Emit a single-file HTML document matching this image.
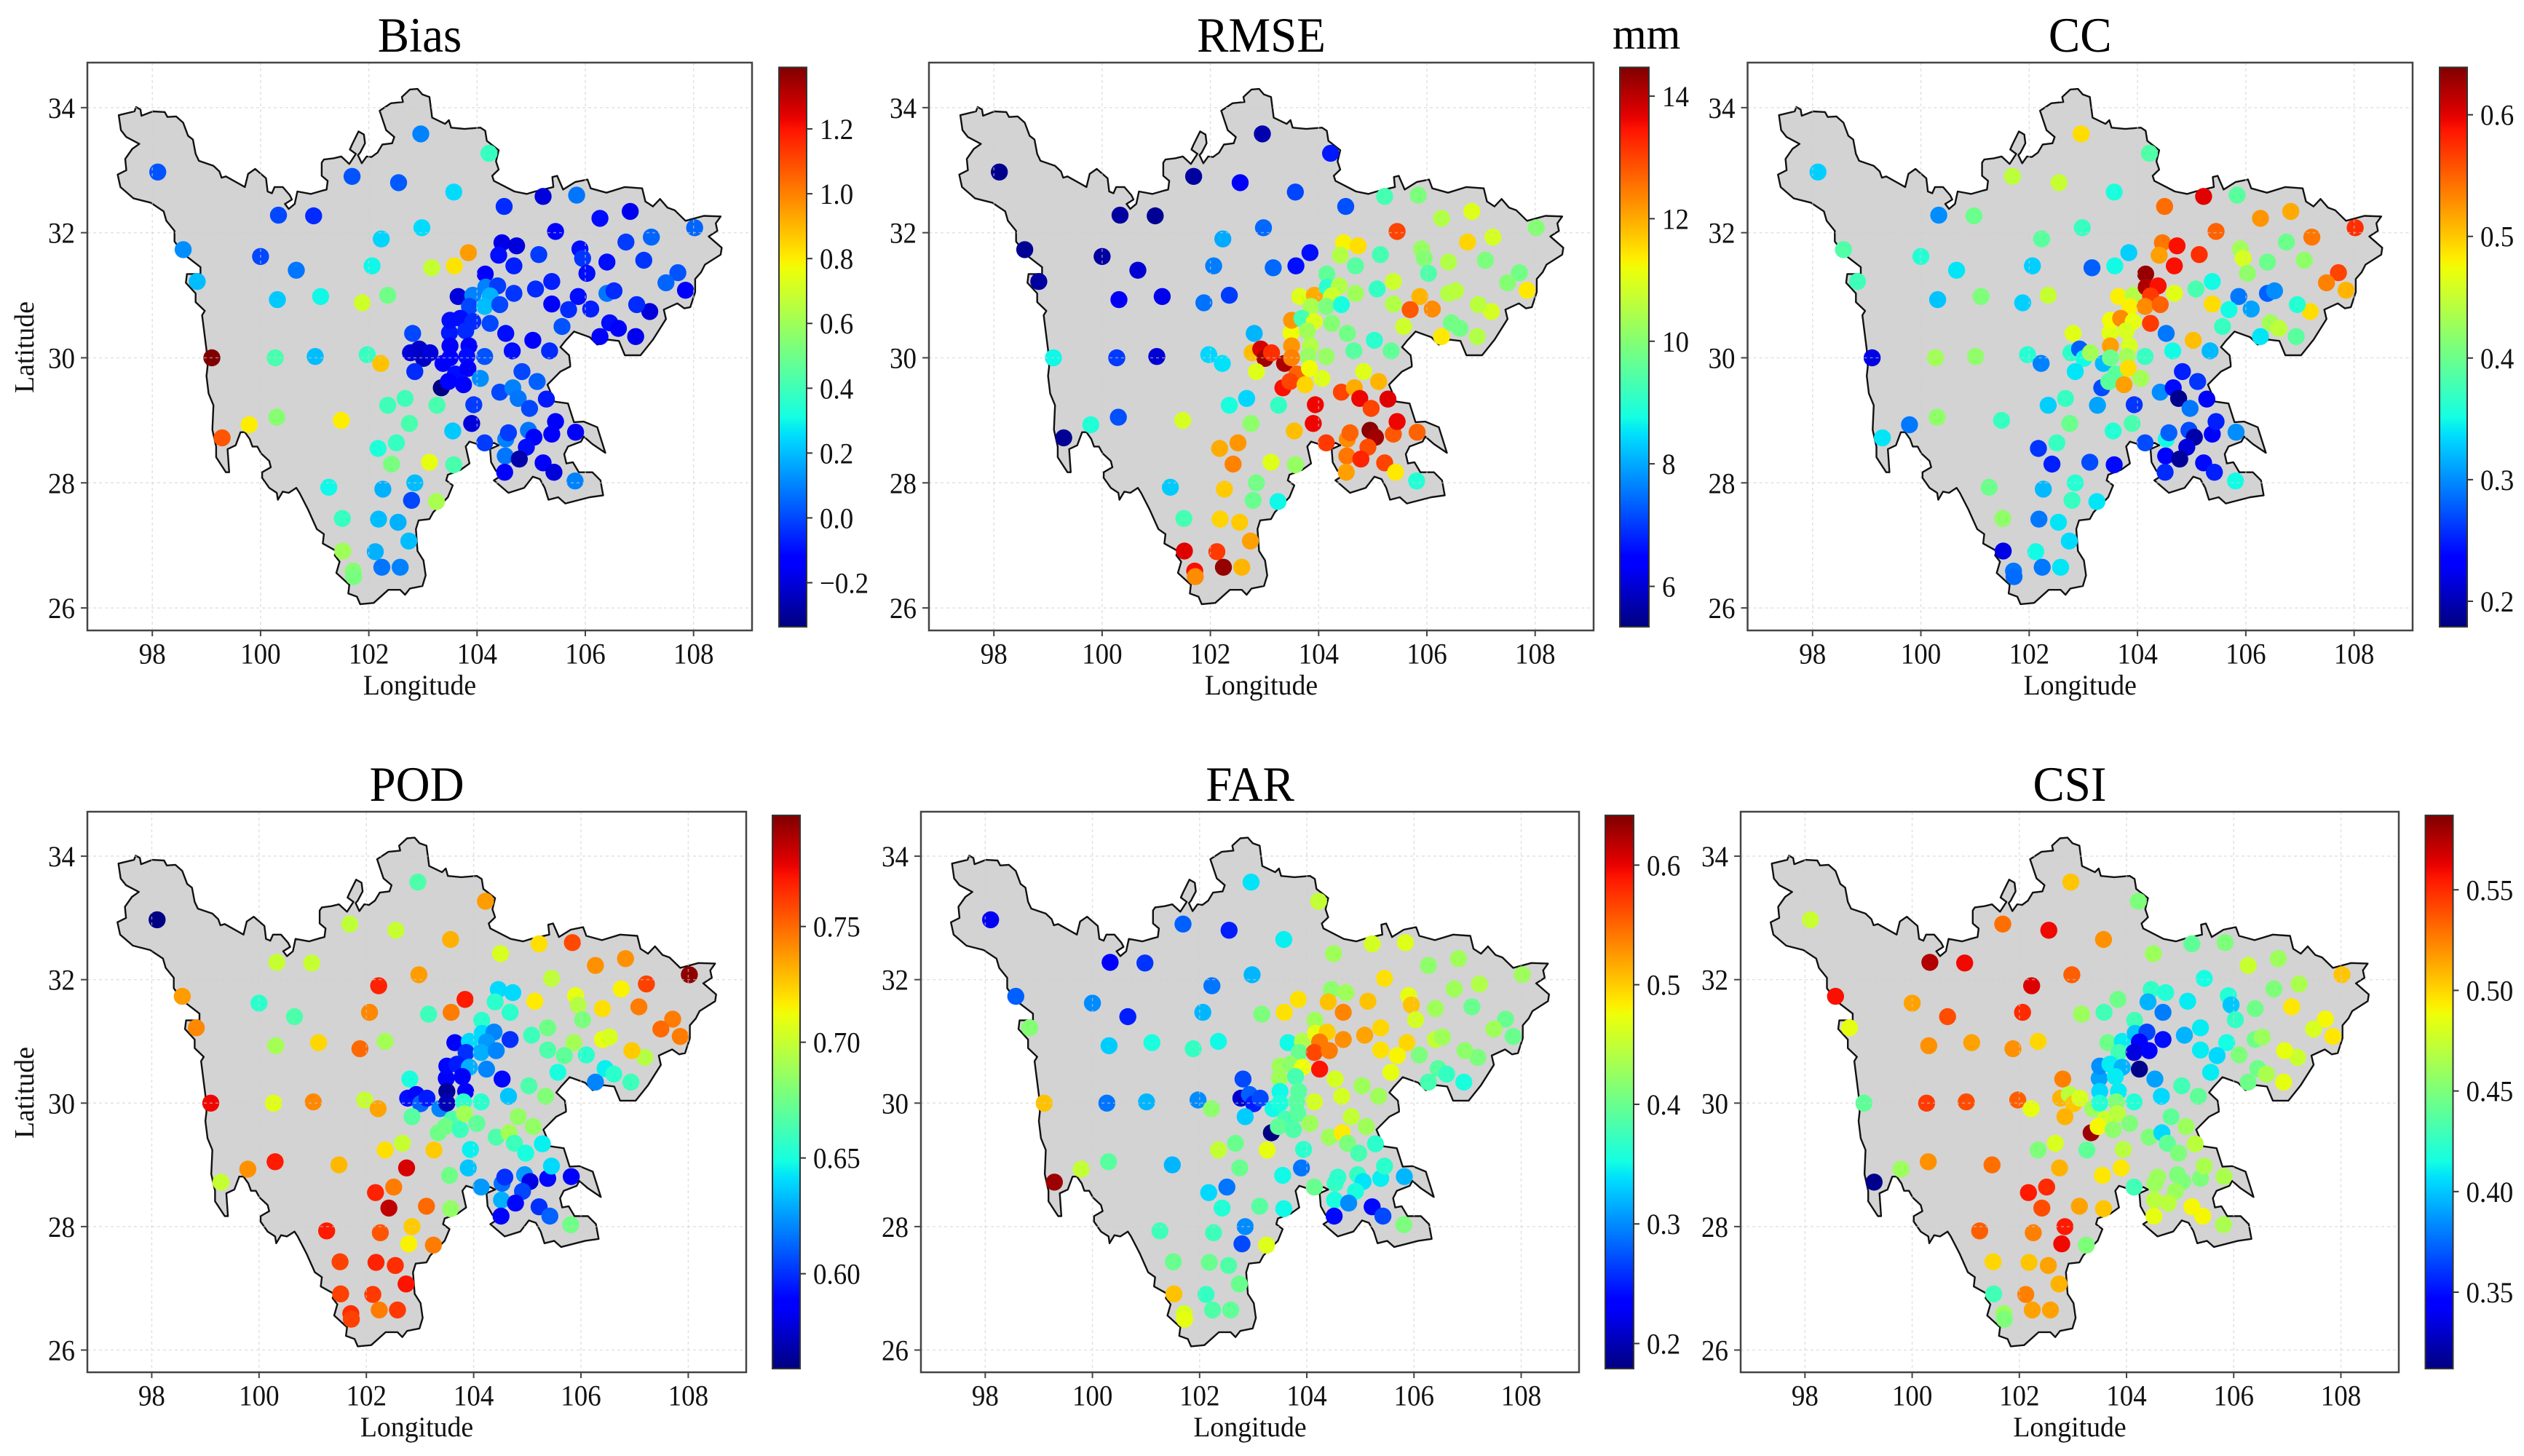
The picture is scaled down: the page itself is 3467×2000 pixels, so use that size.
<!DOCTYPE html>
<html lang="en">
<head>
<meta charset="utf-8">
<title>Precipitation verification metrics over Sichuan</title>
<style>
html,body{margin:0;padding:0;background:#fff;}
svg{display:block;font-family:"Liberation Serif",serif;}
</style>
</head>
<body>
<svg id="figure" xmlns="http://www.w3.org/2000/svg" width="3467" height="2000" viewBox="0 0 3467 2000">
<rect x="0" y="0" width="3467" height="2000" fill="#ffffff"/>
</svg>
<script>
const stationLon = [
98.1,98.57,98.83,99.1,99.29,99.79,100.0,100.33,100.98,100.66,
100.31,101.11,100.27,101.01,100.3,101.49,101.69,102.55,102.96,104.22,
103.57,104.5,105.22,105.84,102.98,102.23,102.06,101.88,102.35,103.16,
103.58,103.84,101.97,102.22,102.81,102.77,102.93,103.01,103.13,102.85,
103.34,103.37,103.49,103.5,103.5,103.5,103.6,103.47,103.75,103.65,
103.92,103.86,103.69,103.92,103.79,103.85,103.81,103.83,104.15,104.16,
104.38,104.24,104.14,104.42,104.68,104.24,104.53,104.65,104.14,104.06,
104.42,104.66,104.76,104.83,105.11,105.03,105.34,104.97,105.28,103.94,
103.9,103.55,102.75,102.35,102.67,103.26,102.17,102.51,102.42,103.12,
103.57,104.14,104.53,104.58,104.95,105.05,104.91,105.38,105.45,105.82,
104.52,104.78,105.22,105.42,104.51,105.81,101.26,102.26,102.85,102.79,
103.25,101.51,102.18,102.54,102.74,101.52,102.12,102.24,102.58,101.71,
101.72,105.45,104.46,104.73,104.4,104.68,105.14,105.9,105.95,106.03,
106.4,105.38,105.08,105.87,106.1,105.38,105.69,105.57,106.27,106.45,
106.61,106.93,107.19,106.95,106.4,106.53,106.27,106.83,106.75,107.22,
107.08,108.02,107.71,107.49,107.85];
const stationLat = [
32.97,31.73,31.22,30.0,28.72,28.93,31.62,32.28,32.27,31.4,
30.93,30.98,30.0,30.02,29.05,29.0,32.9,32.8,33.58,33.27,
32.65,32.42,32.58,32.6,32.08,31.9,31.47,30.88,31.0,31.44,
31.47,31.68,30.05,29.91,30.39,30.08,30.14,29.99,30.08,29.78,
29.52,29.91,30.4,30.6,30.19,30.0,29.74,29.62,29.57,30.98,
31.0,30.82,30.63,30.58,30.43,30.19,30.02,29.83,31.34,31.13,
31.15,30.99,30.82,30.85,31.03,30.55,30.39,30.11,30.02,29.67,
29.45,29.52,29.35,29.78,29.62,30.28,30.11,29.19,29.34,29.25,
28.95,28.83,28.95,29.24,29.35,29.24,28.55,28.64,28.3,28.33,
28.29,28.64,28.7,28.8,28.84,28.73,28.57,28.78,28.98,28.81,
28.43,28.38,28.32,28.17,28.17,28.03,27.93,27.9,28.0,27.72,
27.7,27.43,27.42,27.37,27.07,26.91,26.9,26.65,26.65,26.59,
26.5,32.02,31.84,31.79,31.64,31.47,31.65,31.74,31.59,31.35,
31.53,31.22,31.1,30.98,30.78,30.86,30.77,30.5,30.34,30.56,
30.47,30.34,30.74,30.85,31.03,31.07,32.23,32.34,31.85,31.93,
31.56,32.08,31.36,31.2,31.08];

const biasValues = [
0.02,0.12,0.2,1.39,1.08,0.8,0,0,-0.05,0.08,
0.22,0.3,0.42,0.2,0.55,0.8,0.02,0.03,0.1,0.38,
0.25,-0.05,-0.2,0.08,0.25,0.24,0.3,0.7,0.5,0.68,
0.82,0.95,0.38,0.88,0,-0.2,-0.22,-0.24,-0.2,-0.05,
-0.33,-0.15,-0.08,-0.1,-0.15,-0.12,-0.1,-0.12,-0.13,-0.2,
0.1,0,-0.1,-0.05,-0.05,-0.12,-0.1,-0.15,-0.15,0.1,
-0.02,0.18,0.2,0,-0.03,0,-0.1,-0.1,0.02,0.12,
0,0.1,0.08,0,0.04,-0.12,-0.05,0,-0.08,-0.02,
-0.2,0.22,0.42,0.4,0.4,0.42,0.33,0.38,0.52,0.75,
0.42,-0.02,0.1,-0.02,0.08,-0.14,-0.1,-0.15,-0.14,-0.15,
0.08,-0.27,-0.15,-0.2,-0.15,0.1,0.3,0.18,0.2,0,
0.62,0.38,0.2,0.18,0.2,0.6,0.18,0.08,0.1,0.55,
0.52,-0.15,-0.18,-0.2,-0.1,-0.07,-0.02,-0.1,-0.03,-0.1,
-0.1,-0.07,-0.05,-0.1,-0.07,-0.15,-0.05,0.02,-0.15,-0.1,
-0.12,-0.17,-0.2,-0.05,0.08,-0.05,-0.1,-0.17,-0.02,0.05,
-0.03,0.05,0.02,0.05,-0.12];
const rmseValues = [
5.45,5.5,5.6,8.7,5.5,8.9,5.6,5.6,5.5,6.0,
6.3,6.2,7.0,6.0,7.2,10.9,5.6,6.3,5.7,6.7,
7.1,7.2,9.3,9.9,7.4,8.0,7.6,7.5,7.0,7.4,
6.6,6.6,8.4,8.5,8.1,11.8,13.8,14.2,13.2,11.0,
13.5,14.1,11.2,12.2,12.2,12.4,12.7,13.0,11.6,11.0,
12.0,10.4,9.3,11.0,10.3,10.5,10.2,11.2,9.6,9.0,
10.5,10.8,9.9,8.8,10.3,10.0,9.8,9.5,10.2,11.0,
13.0,12.0,13.6,11.0,11.9,9.0,9.6,13.0,13.7,13.6,
13.6,11.8,10.1,8.8,8.4,9.1,12.0,12.2,12.4,11.0,
10.2,13.1,12.3,12.7,14.4,14.2,12.9,12.8,13.6,12.7,
12.5,13.3,13.0,11.4,12.1,8.9,8.3,11.7,9.8,9.7,
8.7,9.3,11.6,11.7,12.1,13.7,13.1,14.3,11.9,13.5,
12.3,13.0,11.3,11.5,10.5,9.5,9.3,10.2,10.0,9.4,
10.5,10.8,9.1,11.9,12.3,10.5,12.8,10.8,11.4,9.8,
9.8,10.5,10.9,10.6,10.5,10.6,10.5,11.0,11.6,10.9,
9.9,10.0,9.8,10.0,11.4];
const ccValues = [
0.33,0.385,0.375,0.22,0.34,0.29,0.36,0.30,0.40,0.34,
0.325,0.41,0.43,0.42,0.42,0.37,0.445,0.45,0.49,0.385,
0.355,0.545,0.60,0.39,0.37,0.39,0.33,0.33,0.45,0.28,
0.35,0.33,0.36,0.295,0.465,0.365,0.28,0.35,0.43,0.34,
0.27,0.32,0.465,0.475,0.52,0.40,0.39,0.39,0.52,0.48,
0.44,0.48,0.53,0.47,0.46,0.46,0.43,0.49,0.63,0.62,
0.59,0.57,0.53,0.55,0.465,0.57,0.29,0.35,0.37,0.43,
0.30,0.24,0.185,0.25,0.26,0.505,0.32,0.29,0.23,0.26,
0.38,0.36,0.40,0.33,0.37,0.31,0.26,0.37,0.25,0.27,
0.24,0.27,0.35,0.28,0.27,0.195,0.215,0.23,0.25,0.30,
0.23,0.19,0.24,0.25,0.255,0.35,0.40,0.32,0.36,0.37,
0.34,0.42,0.29,0.34,0.335,0.22,0.35,0.29,0.34,0.29,
0.285,0.55,0.54,0.59,0.52,0.59,0.575,0.43,0.46,0.42,
0.40,0.35,0.38,0.29,0.31,0.49,0.35,0.37,0.34,0.43,
0.445,0.39,0.49,0.36,0.28,0.30,0.525,0.515,0.40,0.54,
0.42,0.575,0.565,0.535,0.51];
const podValues = [
0.56,0.737,0.742,0.775,0.70,0.74,0.655,0.70,0.70,0.665,
0.69,0.722,0.708,0.742,0.77,0.73,0.698,0.70,0.665,0.737,
0.732,0.705,0.72,0.758,0.737,0.768,0.742,0.75,0.69,0.66,
0.745,0.77,0.70,0.735,0.65,0.592,0.59,0.612,0.595,0.668,
0.675,0.62,0.585,0.59,0.565,0.57,0.665,0.675,0.66,0.585,
0.64,0.60,0.595,0.63,0.585,0.585,0.655,0.69,0.655,0.64,
0.62,0.625,0.63,0.62,0.60,0.62,0.59,0.635,0.655,0.67,
0.665,0.69,0.66,0.685,0.685,0.665,0.68,0.65,0.645,0.645,
0.635,0.675,0.78,0.72,0.70,0.725,0.768,0.745,0.785,0.75,
0.685,0.625,0.615,0.60,0.625,0.58,0.605,0.59,0.64,0.585,
0.63,0.59,0.60,0.612,0.585,0.675,0.77,0.755,0.725,0.715,
0.745,0.76,0.768,0.765,0.772,0.76,0.762,0.745,0.762,0.765,
0.76,0.698,0.64,0.64,0.655,0.655,0.717,0.71,0.695,0.678,
0.72,0.675,0.66,0.69,0.655,0.665,0.67,0.65,0.62,0.645,
0.655,0.66,0.695,0.725,0.71,0.705,0.74,0.74,0.715,0.76,
0.745,0.795,0.745,0.75,0.745];
const farValues = [
0.225,0.28,0.415,0.505,0.63,0.45,0.30,0.23,0.26,0.25,
0.33,0.355,0.29,0.32,0.39,0.32,0.28,0.25,0.34,0.45,
0.345,0.43,0.46,0.465,0.32,0.29,0.32,0.37,0.35,0.41,
0.49,0.49,0.30,0.42,0.27,0.21,0.28,0.25,0.27,0.33,
0.18,0.35,0.43,0.43,0.35,0.355,0.38,0.395,0.385,0.35,
0.44,0.40,0.42,0.475,0.38,0.39,0.39,0.39,0.43,0.47,
0.50,0.54,0.565,0.54,0.53,0.59,0.46,0.46,0.46,0.43,
0.43,0.485,0.41,0.45,0.43,0.43,0.43,0.38,0.365,0.365,
0.29,0.35,0.40,0.45,0.40,0.47,0.335,0.29,0.36,0.39,
0.35,0.40,0.37,0.365,0.37,0.34,0.355,0.345,0.365,0.32,
0.355,0.30,0.24,0.27,0.24,0.41,0.375,0.375,0.30,0.27,
0.465,0.40,0.40,0.385,0.40,0.505,0.37,0.385,0.395,0.46,
0.47,0.49,0.42,0.43,0.505,0.535,0.505,0.47,0.505,0.46,
0.43,0.495,0.52,0.495,0.41,0.49,0.48,0.47,0.38,0.39,
0.37,0.355,0.41,0.42,0.45,0.43,0.42,0.43,0.43,0.44,
0.40,0.43,0.40,0.43,0.40];
const csiValues = [
0.475,0.558,0.485,0.44,0.315,0.46,0.515,0.575,0.56,0.54,
0.52,0.515,0.545,0.54,0.52,0.53,0.53,0.56,0.505,0.45,
0.52,0.46,0.44,0.45,0.535,0.565,0.55,0.52,0.50,0.46,
0.43,0.445,0.535,0.485,0.525,0.51,0.47,0.505,0.48,0.51,
0.58,0.46,0.39,0.385,0.405,0.42,0.475,0.49,0.455,0.445,
0.41,0.43,0.41,0.395,0.41,0.41,0.45,0.47,0.43,0.40,
0.365,0.345,0.335,0.345,0.35,0.315,0.39,0.405,0.42,0.45,
0.45,0.405,0.44,0.44,0.46,0.43,0.44,0.45,0.47,0.47,
0.495,0.495,0.51,0.45,0.48,0.44,0.555,0.55,0.54,0.515,
0.505,0.43,0.46,0.46,0.45,0.45,0.46,0.45,0.465,0.465,
0.47,0.47,0.49,0.49,0.485,0.465,0.535,0.525,0.555,0.56,
0.45,0.50,0.505,0.515,0.51,0.43,0.525,0.515,0.515,0.46,
0.45,0.415,0.425,0.42,0.395,0.38,0.41,0.42,0.40,0.425,
0.445,0.41,0.395,0.415,0.45,0.41,0.405,0.41,0.445,0.445,
0.465,0.485,0.475,0.485,0.445,0.46,0.475,0.46,0.45,0.465,
0.495,0.505,0.49,0.48,0.495];

const biasRange = [-0.336,1.39];
const rmseRange = [5.34,14.47];
const ccRange = [0.179,0.639];
const podRange = [0.559,0.798];
const farRange = [0.179,0.6416];
const csiRange = [0.312,0.587];

const biasTicks = [-0.2,0,0.2,0.4,0.6,0.8,1.0,1.2];
const rmseTicks = [6,8,10,12,14];
const ccTicks = [0.2,0.3,0.4,0.5,0.6];
const podTicks = [0.60,0.65,0.70,0.75];
const farTicks = [0.2,0.3,0.4,0.5,0.6];
const csiTicks = [0.35,0.40,0.45,0.50,0.55];

const lonTicks = [98,100,102,104,106,108];
const latTicks = [26,28,30,32,34];
const lonDomain = [96.8,109.08];
const latDomain = [25.64,34.72];

const boundaryLon = [
97.38,97.67,97.70,97.78,97.80,98.01,98.23,98.28,98.44,98.57,98.66,98.75,98.80,98.86,99.13,99.24,99.28,99.36,99.71,99.77,
99.90,100.10,100.13,100.21,100.26,100.41,100.54,100.58,100.45,100.52,100.63,100.68,100.93,101.13,101.22,101.24,101.13,101.13,101.17,101.35,
101.49,101.64,101.76,101.65,101.69,101.81,101.91,101.93,101.84,101.80,101.87,101.96,102.05,102.16,102.25,102.43,102.47,102.32,102.20,102.41,
102.63,102.61,102.76,102.90,102.99,103.12,103.17,
103.41,103.48,103.52,103.77,104.06,104.15,104.18,104.40,104.35,104.40,104.28,104.31,104.69,104.92,105.07,105.41,105.39,105.48,105.59,105.81,
106.04,106.10,106.39,106.73,107.05,107.11,107.25,107.38,107.52,107.65,107.85,108.19,108.50,108.41,108.44,108.28,108.52,108.50,108.21,108.14,
108.03,108.03,107.94,107.83,107.70,107.45,107.49,107.25,107.02,106.73,106.62,106.42,106.22,106.08,105.79,105.63,105.54,105.70,105.72,
105.72,105.54,105.30,105.43,105.68,105.79,105.97,106.22,106.37,106.13,105.97,105.92,105.68,105.61,105.65,105.77,105.88,106.13,106.28,106.33,
106.08,105.63,105.50,105.32,105.25,105.16,105.03,104.87,104.58,104.31,104.51,104.35,104.26,104.24,104.40,104.31,104.15,103.86,103.79,103.86,
103.70,103.46,103.43,103.55,103.46,103.19,103.12,102.92,102.87,102.90,103.01,103.05,102.99,102.76,102.67,102.58,
102.36,102.09,101.84,101.78,101.62,101.64,101.40,101.46,101.37,101.40,101.15,101.17,101.04,100.88,100.72,100.66,100.52,100.41,100.32,100.30,
100.16,100.03,100.03,100.19,100.16,100.01,99.94,99.85,99.80,99.71,99.63,99.54,99.39,99.42,99.36,99.18,99.18,99.11,99.13,99.04,99.00,99.02,
99.00,98.92,98.97,98.80,98.80,98.62,98.64,98.89,98.89,98.59,98.41,98.41,98.26,98.21,97.97,97.65,97.41,97.36,97.52,97.50,97.63,97.76,97.52,97.42];
const boundaryLat = [
33.88,33.94,34.01,33.97,33.87,33.94,33.93,33.85,33.86,33.76,33.55,33.49,33.26,33.15,33.07,32.98,32.88,32.90,32.73,32.94,
33.02,32.87,32.66,32.63,32.73,32.73,32.60,32.53,32.46,32.38,32.46,32.66,32.62,32.67,32.69,32.83,32.91,33.12,33.17,33.19,
33.22,33.10,33.26,33.33,33.41,33.62,33.57,33.43,33.28,33.24,33.11,33.22,33.21,33.28,33.41,33.43,33.53,33.64,33.95,34.07,
34.09,34.17,34.29,34.30,34.21,34.17,33.84,
33.74,33.80,33.68,33.66,33.68,33.63,33.47,33.32,33.14,33.01,32.91,32.83,32.66,32.62,32.66,32.73,32.89,32.91,32.69,32.81,
32.85,32.71,32.64,32.73,32.71,32.50,32.42,32.54,32.40,32.36,32.19,32.27,32.26,32.15,32.03,31.94,31.76,31.65,31.49,31.37,
31.26,31.05,30.81,30.79,30.87,30.77,30.62,30.29,30.04,30.04,30.27,30.29,30.21,30.33,30.42,30.27,30.17,30.04,29.90,
29.86,29.78,29.57,29.30,29.27,28.97,28.98,28.89,28.48,28.62,28.74,28.66,28.58,28.46,28.31,28.33,28.17,28.17,28.04,27.80,
27.77,27.67,27.77,27.73,27.92,28.06,28.10,27.92,27.84,28.04,28.15,28.19,28.33,28.54,28.60,28.64,28.58,28.66,28.58,28.31,
28.21,28.13,28.04,27.96,27.77,27.53,27.42,27.40,27.26,26.91,26.76,26.52,26.35,26.31,26.21,26.29,
26.29,26.08,26.06,26.18,26.23,26.37,26.56,26.74,26.84,26.91,27.03,27.18,27.26,27.57,27.84,27.92,27.84,27.86,27.73,27.84,
27.92,28.08,28.17,28.25,28.35,28.47,28.58,28.58,28.70,28.81,28.81,28.60,28.54,28.17,28.17,28.41,28.58,28.85,29.24,29.43,29.71,29.86,
30.13,30.68,30.75,30.89,31.03,31.20,31.34,31.34,31.45,31.65,31.86,32.03,32.19,32.34,32.48,32.55,32.73,32.93,33.00,33.18,33.34,33.42,33.53,33.64];

const panels = [
 {key:'bias', title:'Bias', values:biasValues, range:biasRange, ticks:biasTicks, dec:1, left:120, right:1033, top:86, bottom:866, cbL:1070, cbR:1108, cbT:92.5, cbB:861, showLat:true},
 {key:'rmse', title:'RMSE', values:rmseValues, range:rmseRange, ticks:rmseTicks, dec:0, left:1276, right:2189, top:86, bottom:866, cbL:2225, cbR:2265, cbT:92.5, cbB:861, showLat:false},
 {key:'cc', title:'CC', values:ccValues, range:ccRange, ticks:ccTicks, dec:1, left:2400.5, right:3314, top:86, bottom:866, cbL:3351, cbR:3389, cbT:92.5, cbB:861, showLat:false},
 {key:'pod', title:'POD', values:podValues, range:podRange, ticks:podTicks, dec:2, left:120, right:1025, top:1115, bottom:1885, cbL:1061, cbR:1099, cbT:1120, cbB:1880, showLat:true},
 {key:'far', title:'FAR', values:farValues, range:farRange, ticks:farTicks, dec:1, left:1265, right:2169, top:1115, bottom:1885, cbL:2205, cbR:2244, cbT:1120, cbB:1880, showLat:false},
 {key:'csi', title:'CSI', values:csiValues, range:csiRange, ticks:csiTicks, dec:2, left:2391, right:3295, top:1115, bottom:1885, cbL:3331.5, cbR:3369.5, cbT:1120, cbB:1880, showLat:false}
];

const NS = 'http://www.w3.org/2000/svg';
const svg = document.getElementById('figure');

function make(tag, attrs, parent) {
  const el = document.createElementNS(NS, tag);
  for (const k in attrs) el.setAttribute(k, attrs[k]);
  parent.appendChild(el);
  return el;
}
function stretch(x, y, sy) {
  return 'translate(' + x + ',' + y + ') scale(1,' + sy + ')';
}
function interp(xs, ys, t) {
  if (t <= xs[0]) return ys[0];
  for (let i = 1; i < xs.length; i++) {
    if (t <= xs[i]) return ys[i-1] + (ys[i]-ys[i-1]) * (t-xs[i-1]) / (xs[i]-xs[i-1]);
  }
  return ys[ys.length-1];
}
function jet(t) {
  const r = interp([0,0.35,0.66,0.89,1],[0,0,1,1,0.5],t);
  const g = interp([0,0.125,0.375,0.64,0.91,1],[0,0,1,1,0,0],t);
  const b = interp([0,0.11,0.34,0.65,1],[0.5,1,1,0,0],t);
  return 'rgb(' + Math.round(r*255) + ',' + Math.round(g*255) + ',' + Math.round(b*255) + ')';
}
function formatTick(v, dec) {
  return v.toFixed(dec).replace('-', '\u2212');
}

const defs = make('defs', {}, svg);
const jetGrad = make('linearGradient', {id:'jet-gradient', x1:0, y1:1, x2:0, y2:0}, defs);
for (let i = 0; i <= 64; i++) {
  make('stop', {offset: (i/64).toFixed(4), 'stop-color': jet(i/64)}, jetGrad);
}

panels.forEach(function (p) {
  const xScale = function (lon) { return p.left + (lon - lonDomain[0]) / (lonDomain[1] - lonDomain[0]) * (p.right - p.left); };
  const yScale = function (lat) { return p.bottom - (lat - latDomain[0]) / (latDomain[1] - latDomain[0]) * (p.bottom - p.top); };
  const cScale = function (v) { return (v - p.range[0]) / (p.range[1] - p.range[0]); };
  const cbY = function (v) { return p.cbB - cScale(v) * (p.cbB - p.cbT); };

  const g = make('g', {}, svg);
  
  

  const title = make('text', {'font-size':65, 'text-anchor':'middle', fill:'#000', transform:stretch((p.left+p.right)/2, p.top-15, 1.04)}, g);
  title.textContent = p.title;
  
  

  let d = '';
  boundaryLon.forEach(function (lon, i) {
    d += (i ? 'L' : 'M') + xScale(lon).toFixed(1) + ' ' + yScale(boundaryLat[i]).toFixed(1);
  });
  const region = make('path', {d:d + 'Z', fill:'#d3d3d3', stroke:'#111', 'stroke-width':2.4, 'stroke-linejoin':'round'}, g);
  
  

  stationLon.forEach(function (lon, i) {
    const dot = make('circle', {cx:xScale(lon).toFixed(1), cy:yScale(stationLat[i]).toFixed(1), r:11.7, fill:jet(cScale(p.values[i]))}, g);
    
    
  });

  lonTicks.forEach(function (t) {
    const x = xScale(t);
    const line = make('line', {x1:x, x2:x, y1:p.top, y2:p.bottom, stroke:'#cfcfcf', 'stroke-opacity':0.6, 'stroke-width':1.5, 'stroke-dasharray':'4 4'}, g);
    
    
    const tick = make('line', {x1:x, x2:x, y1:p.bottom, y2:p.bottom+8, stroke:'#444', 'stroke-width':2}, g);
    
    
    const label = make('text', {'font-size':37, 'text-anchor':'middle', fill:'#111', transform:stretch(x, p.bottom+45.5, 1.1)}, g);
    label.textContent = String(t);
    
    
  });
  latTicks.forEach(function (t) {
    const y = yScale(t);
    const line = make('line', {x1:p.left, x2:p.right, y1:y, y2:y, stroke:'#cfcfcf', 'stroke-opacity':0.6, 'stroke-width':1.5, 'stroke-dasharray':'4 4'}, g);
    
    
    const tick = make('line', {x1:p.left-9, x2:p.left, y1:y, y2:y, stroke:'#444', 'stroke-width':2}, g);
    
    
    const label = make('text', {'font-size':37, 'text-anchor':'end', fill:'#111', transform:stretch(p.left-17, y+14, 1.1)}, g);
    label.textContent = String(t);
    
    
  });

  const frame = make('rect', {x:p.left, y:p.top, width:p.right-p.left, height:p.bottom-p.top, fill:'none', stroke:'#444', 'stroke-width':2.5}, g);
  
  

  const xLabel = make('text', {'font-size':37.8, 'text-anchor':'middle', fill:'#111', transform:stretch((p.left+p.right)/2, p.bottom+88, 1.03)}, g);
  xLabel.textContent = 'Longitude';
  
  

  if (p.showLat) {
    const cy = (p.top+p.bottom)/2 + 1;
    const yLabel = make('text', {x:0, y:0, 'font-size':37.8, 'text-anchor':'middle', fill:'#111', transform:'translate(46,' + cy + ') rotate(-90)'}, g);
    yLabel.textContent = 'Latitude';
    
    
  }

  const bar = make('rect', {x:p.cbL, y:p.cbT, width:p.cbR-p.cbL, height:p.cbB-p.cbT, fill:'url(#jet-gradient)', stroke:'#333', 'stroke-width':2}, g);
  
  

  p.ticks.forEach(function (t) {
    const y = cbY(t);
    const tick = make('line', {x1:p.cbR, x2:p.cbR+8, y1:y, y2:y, stroke:'#333', 'stroke-width':2}, g);
    
    
    const label = make('text', {'font-size':37, fill:'#111', transform:stretch(p.cbR+18, y+14, 1.1)}, g);
    label.textContent = formatTick(t, p.dec);
    
    
  });
});

const unit = make('text', {x:2215, y:67, 'font-size':60, fill:'#000'}, svg);
unit.textContent = 'mm';


</script>
</body>
</html>
